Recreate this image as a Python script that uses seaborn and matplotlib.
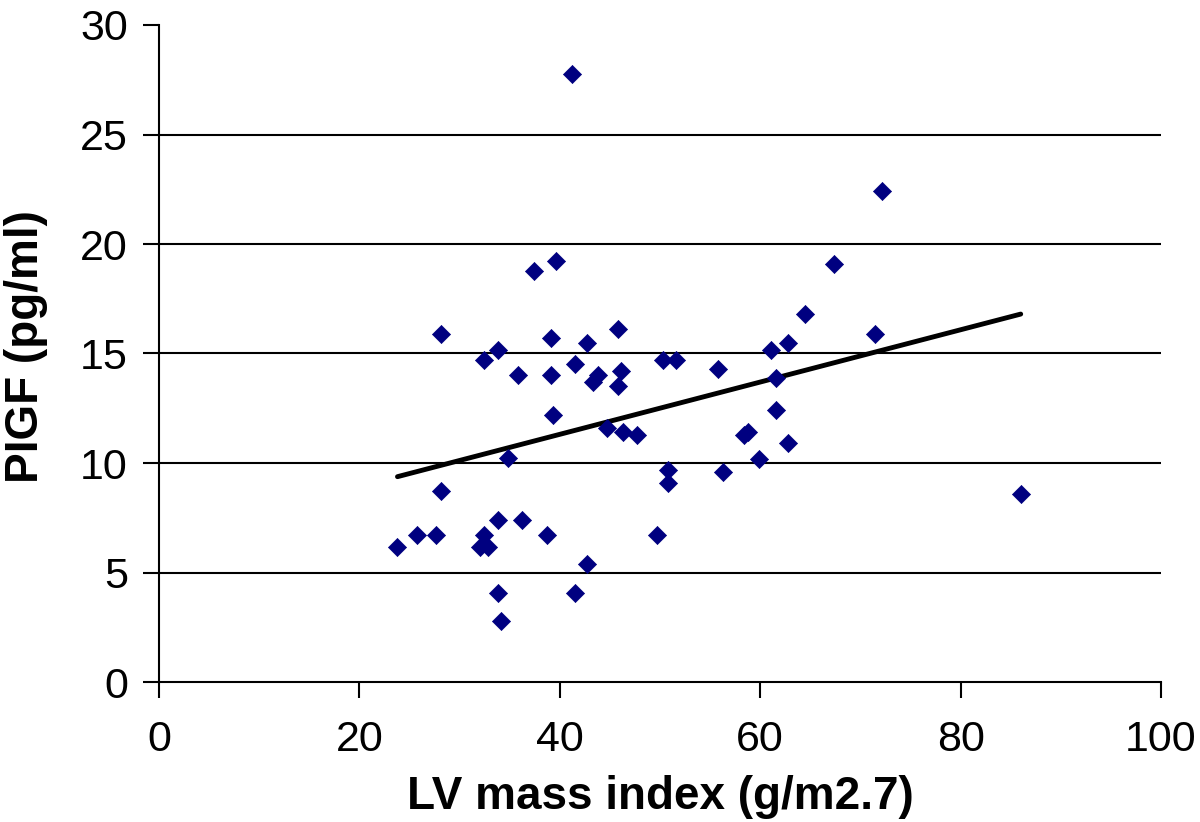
import numpy as np
import matplotlib
matplotlib.use("Agg")
import matplotlib.pyplot as plt
import seaborn as sns

# values
lv_mass = [23.8, 25.7, 27.6, 28.1, 28.1, 32.4, 32.0, 32.8, 32.4, 33.8,
           33.8, 33.8, 34.1, 34.8, 35.8, 36.2, 37.4, 38.7, 39.1, 39.1,
           39.3, 39.6, 41.5, 41.2, 41.5, 42.7, 42.7, 43.3, 43.8, 45.8,
           46.1, 45.8, 44.7, 46.3, 47.7, 49.7, 50.3, 51.6, 50.8, 50.8,
           55.8, 56.3, 58.4, 58.8, 59.9, 61.1, 61.6, 61.6, 62.8, 62.8,
           64.5, 67.4, 71.5, 72.2, 86.0]
plgf = [6.16, 6.7, 6.7, 15.9, 8.7, 6.7, 6.15, 6.15, 14.7, 15.15,
        7.4, 4.06, 2.78, 10.23, 14.0, 7.4, 18.77, 6.7, 15.7, 14.0,
        12.2, 19.23, 4.06, 27.76, 14.5, 15.5, 5.4, 13.7, 14.0, 16.1,
        14.2, 13.5, 11.6, 11.4, 11.3, 6.7, 14.7, 14.7, 9.7, 9.1,
        14.3, 9.6, 11.3, 11.4, 10.2, 15.15, 13.9, 12.4, 15.5, 10.9,
        16.8, 19.1, 15.9, 22.4, 8.6]

x_ticks = [0, 20, 40, 60, 80, 100]
y_ticks = [0, 5, 10, 15, 20, 25, 30]

sns.set_style("white")
plt.rcParams['font.family'] = ['Liberation Sans', 'DejaVu Sans']

fig = plt.figure(figsize=(12, 8.22), dpi=100)
ax = fig.add_axes([159 / 1200, 1 - 682 / 822, 1002 / 1200, 657 / 822])

# fitted line, drawn from the smallest to the largest x
sns.regplot(x=np.array(lv_mass), y=np.array(plgf), scatter=False, ci=None,
            truncate=True, ax=ax, line_kws=dict(color='black', lw=3.5, zorder=3))
sns.scatterplot(x=lv_mass, y=plgf, marker='D', color='#000080', s=85,
                edgecolor='#000080', linewidth=0.5, ax=ax, zorder=4)

ax.set_xlim(0, 100)
ax.set_ylim(0, 30)
ax.set_xticks(x_ticks)
ax.set_yticks(y_ticks)

ax.yaxis.grid(True, color='black', lw=1.5)
ax.get_ygridlines()[-1].set_visible(False)
ax.get_ygridlines()[0].set_visible(False)
ax.set_axisbelow(True)

for side in ['top', 'right']:
    ax.spines[side].set_visible(False)
for side in ['left', 'bottom']:
    ax.spines[side].set_color('black')
    ax.spines[side].set_linewidth(1.5)

ax.tick_params(axis='both', direction='out', length=11.5, width=1.5,
               color='black', labelsize=31, labelcolor='black')
ax.tick_params(axis='x', pad=16, bottom=True)
ax.tick_params(axis='y', pad=11, left=True)

ax.set_xlabel('LV mass index (g/m2.7)', fontsize=33, fontweight='bold',
              color='black', labelpad=11)
ax.set_ylabel('PIGF (pg/ml)', fontsize=33, fontweight='bold', color='black')
ax.yaxis.set_label_coords(-0.111, 0.51)

fig.savefig('out.png', dpi=100)
